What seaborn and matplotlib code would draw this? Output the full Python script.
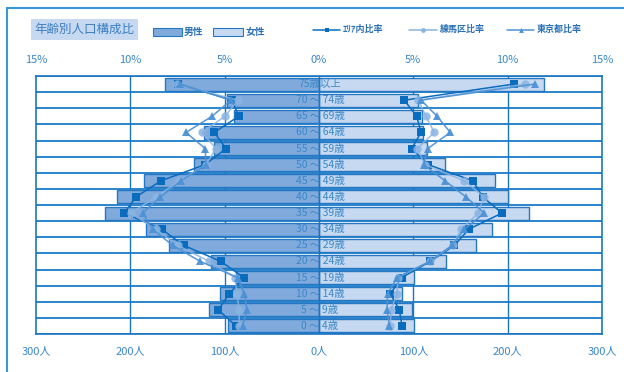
import numpy as np
import pandas as pd
import seaborn as sns
import matplotlib
matplotlib.use("Agg")
import matplotlib.pyplot as plt
from matplotlib.patches import Rectangle
from matplotlib.lines import Line2D

# ---- data -------------------------------------------------------------
ages = ["75歳以上", "70 ～ 74歳", "65 ～ 69歳", "60 ～ 64歳", "55 ～ 59歳",
        "50 ～ 54歳", "45 ～ 49歳", "40 ～ 44歳", "35 ～ 39歳", "30 ～ 34歳",
        "25 ～ 29歳", "20 ～ 24歳", "15 ～ 19歳", "10 ～ 14歳", "5 ～ 9歳",
        "0 ～ 4歳"]

# population (persons)
male_count = [163, 98, 90, 122, 111, 133, 185, 214, 227, 183, 159, 115, 88, 105, 117, 96]
female_count = [238, 105, 109, 110, 115, 134, 187, 200, 223, 183, 166, 135, 101, 88, 99, 101]

# composition ratios (%)
area_male = [7.45, 4.6, 4.26, 5.55, 4.93, 6.05, 8.38, 9.7, 10.32, 8.34, 7.18, 5.2, 3.99, 4.75, 5.34, 4.4]
nerima_male = [7.53, 4.3, 4.98, 6.22, 5.46, 6.0, 7.4, 8.64, 9.97, 8.64, 7.49, 5.82, 4.45, 4.35, 4.23, 4.23]
tokyo_male = [7.35, 4.67, 5.67, 7.05, 6.03, 5.99, 7.32, 8.41, 9.35, 8.82, 7.76, 6.29, 4.31, 3.96, 3.82, 4.05]

area_female = [10.32, 4.52, 5.18, 5.41, 4.91, 5.8, 8.15, 8.68, 9.7, 7.94, 7.18, 5.9, 4.38, 3.78, 4.26, 4.4]
nerima_female = [10.93, 5.27, 5.67, 6.11, 5.2, 5.62, 7.71, 8.73, 8.45, 7.53, 7.09, 5.87, 4.17, 4.14, 3.82, 3.78]
tokyo_female = [11.45, 5.41, 6.26, 6.96, 5.76, 5.55, 6.68, 7.79, 8.77, 7.71, 7.05, 5.87, 4.14, 3.64, 3.61, 3.73]

count_ticks = [-300, -200, -100, 0, 100, 200, 300]
count_labels = ["300人", "200人", "100人", "0人", "100人", "200人", "300人"]
pct_ticks = [-15, -10, -5, 0, 5, 10, 15]
pct_labels = ["15%", "10%", "5%", "0%", "5%", "10%", "15%"]

# ---- style -------------------------------------------------------------
sns.set_theme(style="white")
plt.rcParams["font.family"] = ["Noto Sans CJK JP", "DejaVu Sans"]

W, H = 624, 372
BLUE = "#1a75c2"
GRID = "#2a85cc"
TXT = "#3a87c9"
MALE_FC = "#7faadb"
FEMALE_FC = "#c6d9f0"
BAR_EC = "#2677c3"
C_AREA = "#0a6cbf"
C_NERIMA = "#8ab4e2"
C_TOKYO = "#4d92d6"


def fx(px):
    return px / W


def fy(py):
    return 1 - py / H


fig = plt.figure(figsize=(W / 100, H / 100), dpi=100)
fig.patch.set_facecolor("white")

ax = fig.add_axes([fx(36), fy(334), fx(602) - fx(36), fy(76) - fy(334)])

df = pd.DataFrame({"age": ages,
                   "male": -np.array(male_count, dtype=float),
                   "female": np.array(female_count, dtype=float)})

sns.barplot(data=df, x="male", y="age", orient="h", color=MALE_FC,
            edgecolor=BAR_EC, linewidth=1.0, width=0.8, saturation=1,
            ax=ax, zorder=2)
sns.barplot(data=df, x="female", y="age", orient="h", color=FEMALE_FC,
            edgecolor=BAR_EC, linewidth=1.0, width=0.8, saturation=1,
            ax=ax, zorder=2)

ax.set_xlim(-300, 300)
ax.set_ylim(len(ages) - 0.5, -0.5)
ax.set_xlabel("")
ax.set_ylabel("")
ax.set_yticks([])

# row separators and grid
for b in np.arange(-0.5, len(ages)):
    ax.axhline(b, color=GRID, lw=1.4, zorder=1)
for v in [-200, -100, 100, 200]:
    ax.axvline(v, color=BLUE, lw=1.0, zorder=1)
ax.axvline(0, color=BLUE, lw=1.0, zorder=4)

for s in ax.spines.values():
    s.set_color(BLUE)
    s.set_linewidth(1.2)

ax.set_xticks(count_ticks)
ax.set_xticklabels(count_labels)
ax.tick_params(axis="x", length=0, pad=9, labelsize=8, labelcolor=TXT)

# age labels across the centre
for i, lab in enumerate(ages):
    ax.text(1, i, lab, ha="center", va="center", fontsize=7.5,
            color=TXT, zorder=5)

# ratio lines on a percentage scale
ax2 = ax.twiny()
ax2.set_xlim(-15, 15)
ax2.set_ylim(ax.get_ylim())
ypos = np.arange(len(ages))
series = [
    (area_male, area_female, C_AREA, "s", 5.5, 1.0),
    (nerima_male, nerima_female, C_NERIMA, "o", 6, 0.85),
    (tokyo_male, tokyo_female, C_TOKYO, "^", 6, 0.95),
]
for m, f, c, mk, ms, a in series:
    ax2.plot(-np.array(m), ypos, color=c, marker=mk, ms=ms, lw=1.1,
             markeredgewidth=0, alpha=a, zorder=6)
    ax2.plot(np.array(f), ypos, color=c, marker=mk, ms=ms, lw=1.1,
             markeredgewidth=0, alpha=a, zorder=6)
ax2.set_xticks(pct_ticks)
ax2.set_xticklabels(pct_labels)
ax2.tick_params(axis="x", length=0, pad=8, labelsize=8, labelcolor=TXT)
for s in ax2.spines.values():
    s.set_visible(False)
ax2.set_yticks([])

# outer frame (top and left edges)
fig.add_artist(Line2D([fx(7), fx(7)], [fy(8), fy(372)], color="#3a97d6", lw=1.5))
fig.add_artist(Line2D([fx(7), fx(624)], [fy(8), fy(8)], color="#3a97d6", lw=1.5))

# title box
fig.add_artist(Rectangle((fx(31), fy(40)), fx(138) - fx(31), fy(19) - fy(40),
                         facecolor="#c6d9f0", edgecolor="none",
                         transform=fig.transFigure))
fig.text(fx(84.5), fy(29.5), "年齢別人口構成比", ha="center", va="center",
         fontsize=9, color="#3c7fc2")

# legend
for x0, x1, fc, lab in [(153, 182, MALE_FC, "男性"), (213, 243, FEMALE_FC, "女性")]:
    fig.add_artist(Rectangle((fx(x0), fy(35.5)), fx(x1) - fx(x0), fy(28) - fy(35.5),
                             facecolor=fc, edgecolor=BAR_EC, lw=0.8,
                             transform=fig.transFigure))
    fig.text(fx(x1 + 2), fy(32), lab, ha="left", va="center", fontsize=7,
             color="#2a70b5", fontweight="bold")

for x0, x1, c, mk, lab in [(313, 340, C_AREA, "s", "ｴﾘｱ内比率"),
                           (409, 437, C_NERIMA, "o", "練馬区比率"),
                           (507, 534, C_TOKYO, "^", "東京都比率")]:
    fig.add_artist(Line2D([fx(x0), fx(x1)], [fy(29.5), fy(29.5)], color=c, lw=1.1))
    fig.add_artist(Line2D([fx((x0 + x1) / 2)], [fy(29.5)], color=c, marker=mk,
                          ms=3.5, markeredgewidth=0))
    fig.text(fx(x1 + 3), fy(29.5), lab, ha="left", va="center", fontsize=6.5,
             color="#2a70b5", fontweight="bold")

fig.savefig("out.png", dpi=100)
